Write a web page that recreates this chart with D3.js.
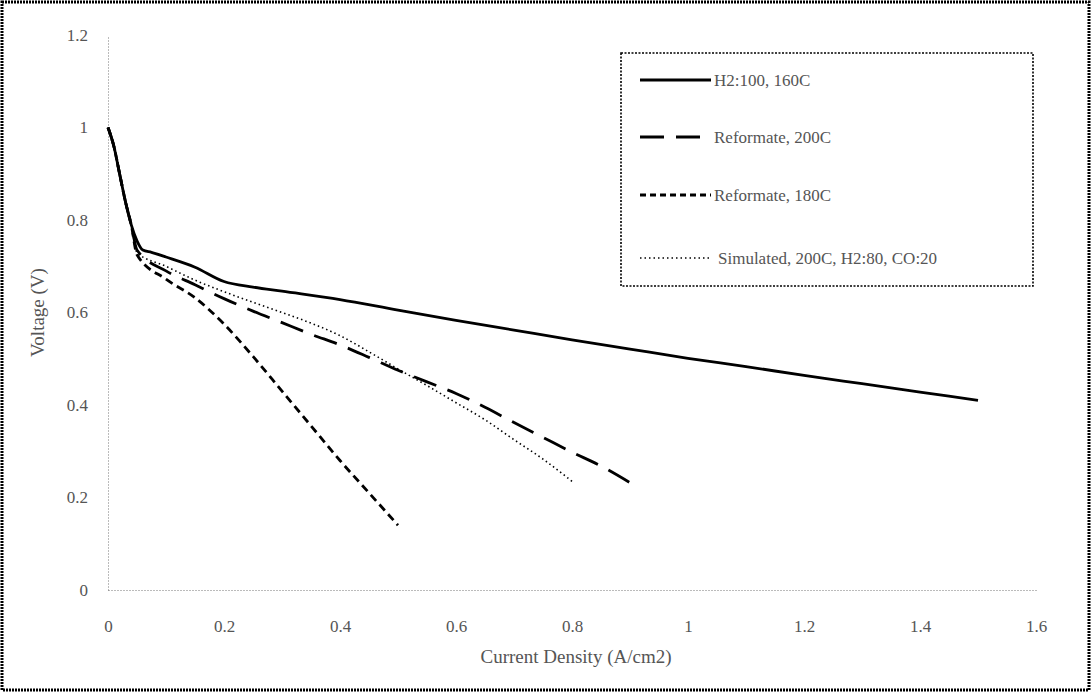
<!DOCTYPE html>
<html><head><meta charset="utf-8">
<script src="https://cdn.jsdelivr.net/npm/d3@7"></script>
<style>
html,body{margin:0;padding:0;background:#fff;}
svg text{font-family:"Liberation Serif","Times New Roman",serif;fill:#555;}
</style></head>
<body><svg id="c" width="1091" height="692"></svg>
<script>
// ---- data ----
const seriesNames = ["H2:100, 160C", "Reformate, 200C", "Reformate, 180C", "Simulated, 200C, H2:80, CO:20"];
const h2X = [0, 0.01, 0.02, 0.03, 0.04, 0.05, 0.06, 0.075, 0.1, 0.15, 0.2, 0.25, 0.3, 0.4, 0.5, 0.6, 0.7, 0.8, 0.9, 1.0, 1.1, 1.2, 1.3, 1.4, 1.5];
const h2V = [1.0, 0.96, 0.9, 0.84, 0.79, 0.755, 0.735, 0.73, 0.72, 0.698, 0.667, 0.655, 0.646, 0.628, 0.605, 0.583, 0.562, 0.541, 0.521, 0.501, 0.483, 0.464, 0.446, 0.428, 0.41];
const r200X = [0, 0.01, 0.02, 0.03, 0.04, 0.05, 0.1, 0.15, 0.2, 0.25, 0.3, 0.35, 0.4, 0.45, 0.5, 0.55, 0.6, 0.65, 0.7, 0.75, 0.8, 0.85, 0.9];
const r200V = [1.0, 0.96, 0.9, 0.84, 0.79, 0.735, 0.69, 0.66, 0.63, 0.603, 0.578, 0.553, 0.53, 0.503, 0.475, 0.45, 0.425, 0.395, 0.362, 0.33, 0.298, 0.268, 0.232];
const r180X = [0, 0.01, 0.02, 0.03, 0.04, 0.05, 0.1, 0.15, 0.2, 0.25, 0.3, 0.35, 0.4, 0.45, 0.5];
const r180V = [1.0, 0.96, 0.9, 0.84, 0.79, 0.725, 0.672, 0.632, 0.575, 0.505, 0.43, 0.355, 0.28, 0.21, 0.14];
const simX = [0, 0.01, 0.02, 0.03, 0.04, 0.05, 0.1, 0.15, 0.2, 0.25, 0.3, 0.35, 0.4, 0.45, 0.5, 0.55, 0.6, 0.65, 0.7, 0.75, 0.8];
const simV = [1.0, 0.96, 0.9, 0.84, 0.79, 0.73, 0.70, 0.67, 0.645, 0.622, 0.6, 0.577, 0.55, 0.515, 0.478, 0.442, 0.405, 0.368, 0.325, 0.283, 0.235];
const xTicks = [0, 0.2, 0.4, 0.6, 0.8, 1, 1.2, 1.4, 1.6];
const yTicks = [0, 0.2, 0.4, 0.6, 0.8, 1, 1.2];
const xTitle = "Current Density (A/cm2)";
const yTitle = "Voltage (V)";

// ---- layout ----
const svg = d3.select("#c");
const L = 108, R = 1036, T = 35, B = 590;
const x = d3.scaleLinear().domain([0, 1.6]).range([L, R]);
const y = d3.scaleLinear().domain([0, 1.2]).range([B, T]);

// outer frame
svg.append("rect").attr("x", 2).attr("y", 2).attr("width", 1087).attr("height", 688)
  .attr("fill", "none").attr("stroke", "#000").attr("stroke-width", 3).attr("stroke-dasharray", "2,1");

// axes
const xAxis = svg.append("g").attr("transform", `translate(0,${B})`)
  .call(d3.axisBottom(x).tickValues(xTicks).tickSize(0).tickPadding(30).tickFormat(d3.format("")));
const yAxis = svg.append("g").attr("transform", `translate(${L},0)`)
  .call(d3.axisLeft(y).tickValues(yTicks).tickSize(0).tickPadding(20).tickFormat(d3.format("")));
[xAxis, yAxis].forEach(g => {
  g.select(".domain").attr("stroke", "#777").attr("stroke-width", 1).attr("stroke-dasharray", "1,2");
  g.selectAll("text").attr("font-size", 17).attr("fill", "#555")
    .style("font-family", '"Liberation Serif",serif');
});

// titles
svg.append("text").attr("x", (L + R) / 2 + 4).attr("y", 663).attr("text-anchor", "middle")
  .attr("font-size", 19).text(xTitle);
svg.append("text").attr("transform", `translate(44,${(T + B) / 2}) rotate(-90)`)
  .attr("text-anchor", "middle").attr("font-size", 19).text(yTitle);

// series
const styles = [
  {dash: null, w: 2.8},
  {dash: "24,12", w: 2.8},
  {dash: "8,5", w: 2.8},
  {dash: "1.5,3", w: 1.6}
];
const data = [
  d3.zip(h2X, h2V), d3.zip(r200X, r200V), d3.zip(r180X, r180V), d3.zip(simX, simV)
];
const line = d3.line().x(d => x(d[0])).y(d => y(d[1])).curve(d3.curveMonotoneX);
data.forEach((d, i) => {
  svg.append("path").datum(d).attr("d", line).attr("fill", "none").attr("stroke", "#000")
    .attr("stroke-width", styles[i].w).attr("stroke-dasharray", styles[i].dash);
});

// legend
svg.append("rect").attr("x", 621).attr("y", 53).attr("width", 412).attr("height", 233)
  .attr("fill", "#fff").attr("stroke", "#000").attr("stroke-width", 1.6).attr("stroke-dasharray", "2,1.5");
const legY = [80, 137, 195, 258];
const legDash = [null, "24,12", "6,4", "1.5,3"];
seriesNames.forEach((n, i) => {
  svg.append("line").attr("x1", 640).attr("x2", 711).attr("y1", legY[i]).attr("y2", legY[i])
    .attr("stroke", "#000").attr("stroke-width", styles[i].w).attr("stroke-dasharray", legDash[i]);
  svg.append("text").attr("x", i === 3 ? 718 : 714).attr("y", legY[i] + 6).attr("font-size", 17).text(n);
});
</script></body></html>
